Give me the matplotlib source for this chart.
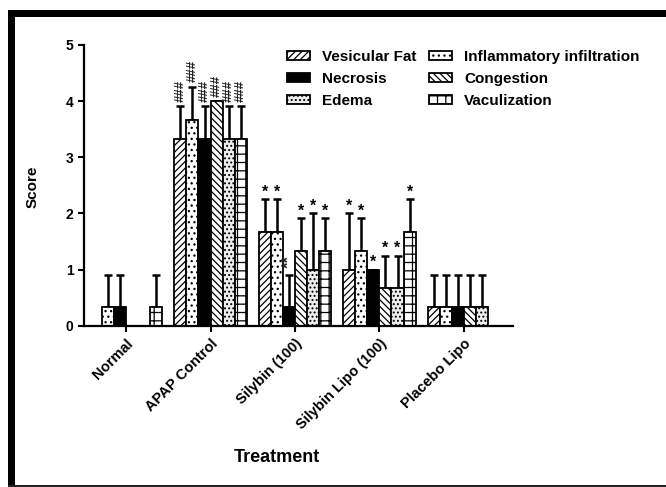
import matplotlib

matplotlib.use("Agg")
import matplotlib.pyplot as plt
import numpy as np
from matplotlib.patches import Rectangle

plt.rcParams["font.family"] = ["Liberation Sans", "DejaVu Sans"]
plt.rcParams["font.weight"] = "bold"
plt.rcParams["hatch.linewidth"] = 0.9

groups = ["Normal", "APAP Control", "Silybin (100)", "Silybin Lipo (100)", "Placebo Lipo"]

# bar order inside each group (GraphPad legend reads row-wise)
series = ["Vesicular Fat", "Inflammatory infiltration", "Necrosis",
          "Congestion", "Edema", "Vaculization"]

vesicular_fat = [0, 3.33, 1.67, 1.0, 0.33]
inflammatory = [0.33, 3.67, 1.67, 1.33, 0.33]
necrosis = [0.33, 3.33, 0.33, 1.0, 0.33]
congestion = [0, 4.0, 1.33, 0.67, 0.33]
edema = [0, 3.33, 1.0, 0.67, 0.33]
vaculization = [0.33, 3.33, 1.33, 1.67, 0]

vesicular_fat_sd = [0, 0.58, 0.58, 1.0, 0.58]
inflammatory_sd = [0.58, 0.58, 0.58, 0.58, 0.58]
necrosis_sd = [0.58, 0.58, 0.58, 0, 0.58]
congestion_sd = [0, 0, 0.58, 0.58, 0.58]
edema_sd = [0, 0.58, 1.0, 0.58, 0.58]
vaculization_sd = [0.58, 0.58, 0.58, 0.58, 0]

# significance marks, one row per series
vesicular_fat_sig = ["", "###", "*", "*", ""]
inflammatory_sig = ["", "###", "*", "*", ""]
necrosis_sig = ["", "###", "**", "*", ""]
congestion_sig = ["", "###", "*", "*", ""]
edema_sig = ["", "###", "*", "*", ""]
vaculization_sig = ["", "###", "*", "*", ""]

values = [vesicular_fat, inflammatory, necrosis, congestion, edema, vaculization]
sds = [vesicular_fat_sd, inflammatory_sd, necrosis_sd, congestion_sd, edema_sd, vaculization_sd]
sigs = [vesicular_fat_sig, inflammatory_sig, necrosis_sig, congestion_sig, edema_sig, vaculization_sig]

styles = [
    dict(facecolor="white", hatch="/////"),
    dict(facecolor="white", hatch="..."),
    dict(facecolor="black", hatch=None),
    dict(facecolor="white", hatch="\\\\\\\\\\"),
    dict(facecolor="#ededed", hatch="...."),
    dict(facecolor="white", hatch="++"),
]

fig = plt.figure(figsize=(6.66, 4.87), dpi=100)
ax = fig.add_axes([0.126, 0.331, 0.644, 0.577])

x = np.arange(len(groups))
width = 0.143
handles = []

for i, name in enumerate(series):
    pos = x + (i - 2.5) * width
    vals = np.array(values[i])
    err = np.array(sds[i])
    ax.errorbar(pos, vals, yerr=[np.zeros_like(err), err], fmt="none",
                ecolor="black", elinewidth=1.8, capsize=3, capthick=1.8, zorder=1)
    b = ax.bar(pos, vals, width, edgecolor="black", linewidth=1.3,
               label=name, zorder=2, **styles[i])
    handles.append(b)
    for p, v, e, s in zip(pos, vals, err, sigs[i]):
        if not s:
            continue
        top = v + e
        if s.startswith("#"):
            ax.text(p, top + 0.08, s, rotation=90, ha="center", va="bottom",
                    fontsize=9.5, fontweight="bold", color="#222222")
        elif s == "**":
            ax.text(p, top + 0.12, s, rotation=90, ha="center", va="bottom",
                    fontsize=12, color="#222222")
        else:
            ax.text(p, top + 0.0, s, ha="center", va="bottom", fontsize=11.5)

ax.set_xlim(-0.5, 4.58)
ax.set_ylim(0, 5)
ax.set_yticks(range(6))
ax.set_xticks(x)
ax.set_xticklabels(groups, rotation=45, ha="right", rotation_mode="anchor", fontsize=10.5)
ax.tick_params(axis="y", labelsize=10, width=1.5, length=4)
ax.tick_params(axis="x", width=1.5, length=4)

for side in ["top", "right"]:
    ax.spines[side].set_visible(False)
for side in ["left", "bottom"]:
    ax.spines[side].set_linewidth(1.6)

ax.set_ylabel("Score", fontsize=11, fontweight="bold")
ax.yaxis.set_label_coords(-0.103, 0.495)
ax.set_xlabel("Treatment", fontsize=13, fontweight="bold")
ax.xaxis.set_label_coords(0.45, -0.44)

# matplotlib fills legend columns first, so reorder to match the picture
order = [0, 2, 4, 1, 3, 5]
ax.legend([handles[k] for k in order], [series[k] for k in order],
          loc="upper left", bbox_to_anchor=(0.431, 0.898),
          bbox_transform=fig.transFigure, ncol=2, frameon=False,
          fontsize=11, handlelength=1.5, handleheight=0.55,
          handletextpad=0.8, columnspacing=0.8, labelspacing=0.52,
          borderpad=0, borderaxespad=0)

# black frame round the picture (open on the right)
fig.add_artist(Rectangle((8 / 666, 0), 7 / 666, 477 / 487, transform=fig.transFigure,
                         facecolor="black", edgecolor="none"))
fig.add_artist(Rectangle((8 / 666, 1 - 16.5 / 487), 1, 6.5 / 487, transform=fig.transFigure,
                         facecolor="black", edgecolor="none"))
fig.add_artist(Rectangle((8 / 666, 0), 1, 2.5 / 487, transform=fig.transFigure,
                         facecolor="#222222", edgecolor="none"))

fig.savefig("out.png", dpi=100)
